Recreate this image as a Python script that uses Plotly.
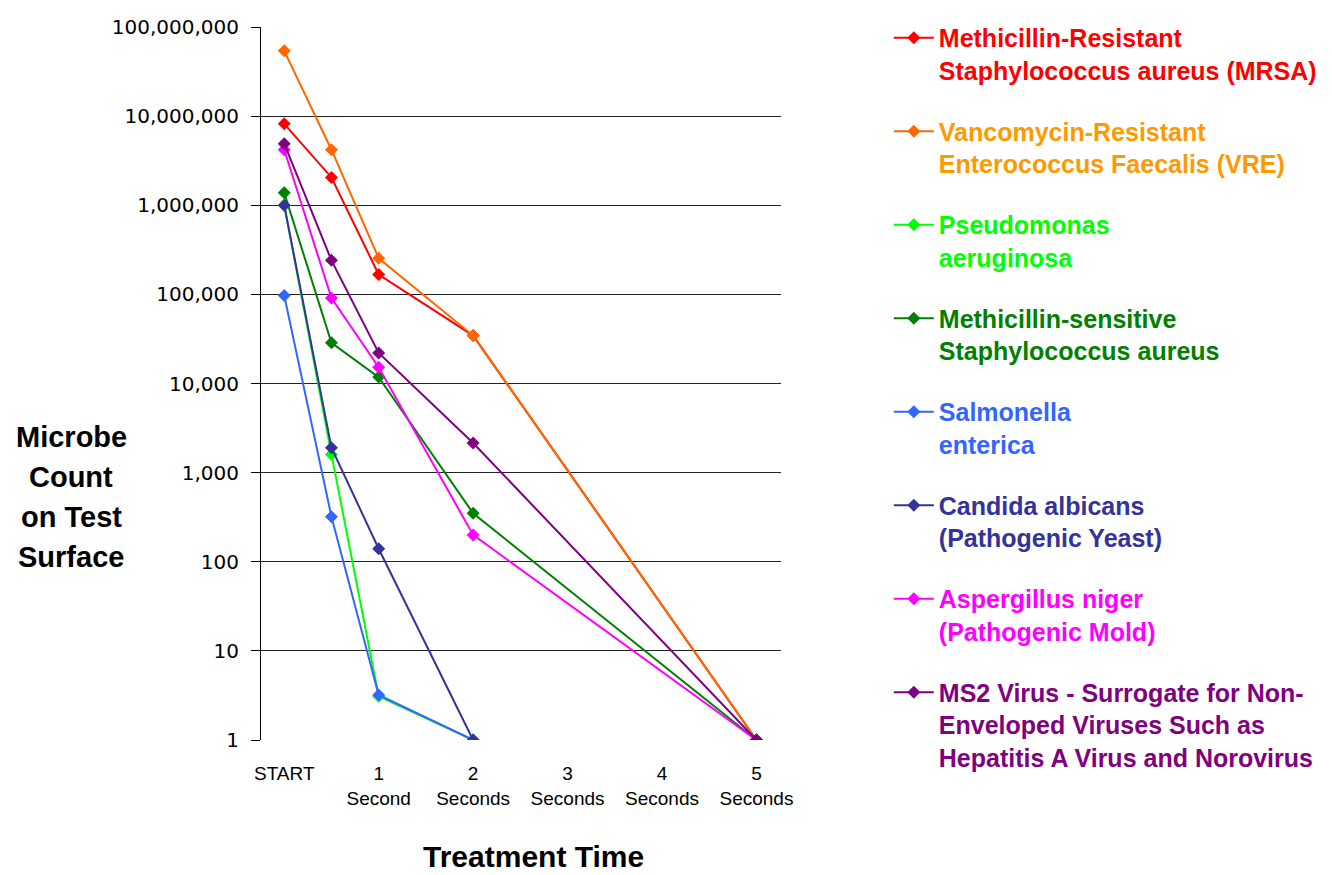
import plotly.graph_objects as go

# ---- data ----
tick_vals = [0, 1, 2, 3, 4, 5]
tick_text = ["START", "1<br>Second", "2<br>Seconds", "3<br>Seconds", "4<br>Seconds", "5<br>Seconds"]
y_tick_vals = [1, 10, 100, 1000, 10000, 100000, 1000000, 10000000, 100000000]
y_tick_text = ["1", "10", "100", "1,000", "10,000", "100,000", "1,000,000", "10,000,000", "100,000,000"]

mrsa_x = [0, 0.5, 1, 2, 5]
mrsa_y = [8200000, 2050000, 167000, 34500, 1]
vre_x = [0, 0.5, 1, 2, 5]
vre_y = [54000000, 4200000, 254000, 34500, 1]
pseudo_x = [0, 0.5, 1, 2]
pseudo_y = [1000000, 1600, 3.1, 1]
mssa_x = [0, 0.5, 1, 2, 5]
mssa_y = [1380000, 28600, 11800, 350, 1]
salm_x = [0, 0.5, 1, 2]
salm_y = [97000, 320, 3.2, 1]
cand_x = [0, 0.5, 1, 2]
cand_y = [1000000, 1900, 140, 1]
asp_x = [0, 0.5, 1, 2, 5]
asp_y = [4200000, 91000, 15200, 200, 1]
ms2_x = [0, 0.5, 1, 2, 5]
ms2_y = [4900000, 241000, 22000, 2150, 1]

series = [
    ("Methicillin-Resistant<br>Staphylococcus aureus (MRSA)", mrsa_x, mrsa_y, "#FF0000", "#FF0000"),
    ("Vancomycin-Resistant<br>Enterococcus Faecalis (VRE)", vre_x, vre_y, "#FF6600", "#FF9900"),
    ("Pseudomonas<br>aeruginosa", pseudo_x, pseudo_y, "#00FF00", "#00FF00"),
    ("Methicillin-sensitive<br>Staphylococcus aureus", mssa_x, mssa_y, "#008000", "#008000"),
    ("Salmonella<br>enterica", salm_x, salm_y, "#3366FF", "#3366FF"),
    ("Candida albicans<br>(Pathogenic Yeast)", cand_x, cand_y, "#333399", "#333399"),
    ("Aspergillus niger<br>(Pathogenic Mold)", asp_x, asp_y, "#FF00FF", "#FF00FF"),
    ("MS2 Virus - Surrogate for Non-<br>Enveloped Viruses Such as<br>Hepatitis A Virus and Norovirus", ms2_x, ms2_y, "#800080", "#800080"),
]

y_title_lines = ["Microbe", "Count", "on Test", "Surface"]
y_title_pos = [437, 477, 517, 557]

FONT = "Liberation Sans, Arial, sans-serif"

fig = go.Figure()
for i, (name, xs, ys, lc, tc) in enumerate(series):
    fig.add_trace(go.Scatter(
        x=xs, y=ys, mode="lines+markers",
        name=f"<b><span style='color:{tc}'>{name}</span></b>",
        legendgroup=f"g{i}",
        line=dict(color=lc, width=2),
        marker=dict(symbol="diamond", size=10, color=lc),
    ))

# plot area spans page x 261..782, y 27..740 (body margin removed below)
def px(x):
    return (x - 261) / 521

def py(y):
    return (740 - y) / 713

annotations = []
for t, yy in zip(y_title_lines, y_title_pos):
    annotations.append(dict(text=f"<b>{t}</b>", xref="paper", yref="paper",
                            x=px(71), y=py(yy), xanchor="center", yanchor="middle",
                            showarrow=False, font=dict(family=FONT, size=29, color="black")))
annotations.append(dict(text="<b>Treatment Time</b>", xref="paper", yref="paper",
                        x=px(534), y=py(857), xanchor="center", yanchor="middle",
                        showarrow=False, font=dict(family=FONT, size=30, color="black")))

fig.update_layout(
    width=1332, height=875,
    margin=dict(l=261, r=550, t=27, b=135),
    paper_bgcolor="white", plot_bgcolor="white",
    font=dict(family=FONT, color="black"),
    showlegend=True,
    legend=dict(
        x=1.205, y=1.017, xanchor="left", yanchor="top",
        traceorder="grouped", tracegroupgap=25.5,
        font=dict(family=FONT, size=25),
        valign="top", itemwidth=40, maxheight=2000,
        bgcolor="rgba(0,0,0,0)",
    ),
    xaxis=dict(
        range=[-0.246, 5.26], tickmode="array", tickvals=tick_vals, ticktext=tick_text,
        showgrid=False, zeroline=False, showline=False,
        ticks="", ticklabelstandoff=20,
        tickfont=dict(family=FONT, size=19, color="black"),
    ),
    yaxis=dict(
        type="log", range=[0, 8], tickmode="array", tickvals=y_tick_vals, ticktext=y_tick_text,
        showgrid=True, gridcolor="#222222", gridwidth=1,
        showline=True, linecolor="black", linewidth=1,
        ticks="outside", ticklen=9, tickcolor="black",
        ticklabelstandoff=8,
        zeroline=False,
        tickfont=dict(family="DejaVu Sans, sans-serif", size=20, color="black"),
    ),
    annotations=annotations,
)

fig.write_html("out.html", config={"displayModeBar": False},
               post_script="document.body.style.margin='0px';")
